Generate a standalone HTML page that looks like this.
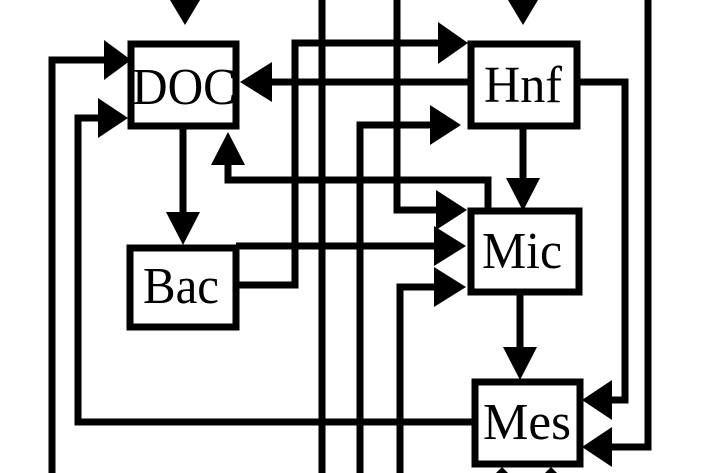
<!DOCTYPE html>
<html><head><style>html,body{margin:0;padding:0;background:#fff}svg{display:block}</style></head>
<body>
<svg width="710" height="473" viewBox="0 0 710 473" xmlns="http://www.w3.org/2000/svg">
<g fill="none" stroke="#000" stroke-width="7" stroke-linejoin="miter">
<rect x="131" y="44" width="105" height="82"/>
<rect x="471" y="44" width="106" height="82"/>
<rect x="471" y="211" width="108" height="81"/>
<rect x="130" y="248" width="106" height="79"/>
<rect x="475" y="382" width="105" height="82"/>
<line x1="185" y1="0" x2="185" y2="8"/>
<line x1="523" y1="0" x2="523" y2="8"/>
<polyline points="52,473 52,60 108,60"/>
<polyline points="475,422 78,422 78,118 102,118"/>
<line x1="183" y1="127" x2="183" y2="215"/>
<line x1="471" y1="82" x2="268" y2="82"/>
<polyline points="228,160 228,180 488,180 488,211"/>
<polyline points="236,285 295,285 295,43 440,43"/>
<line x1="322" y1="0" x2="322" y2="473"/>
<polyline points="397,0 397,210 440,210"/>
<polyline points="360,473 360,125 434,125"/>
<polyline points="400,473 400,287 438,287"/>
<line x1="236" y1="246" x2="438" y2="246"/>
<line x1="523" y1="126" x2="523" y2="180"/>
<line x1="520" y1="292" x2="520" y2="350"/>
<polyline points="577,82 625,82 625,400 610,400"/>
<polyline points="648,0 648,447 610,447"/>
</g>
<g fill="#000">
<polygon points="170,0 200,0 185,25"/>
<polygon points="508,0 538,0 523,25"/>
<polygon points="104,40 104,80 131,60"/>
<polygon points="98,98 98,138 128,118"/>
<polygon points="166,212 200,212 183,245"/>
<polygon points="272,62 272,102 240,82"/>
<polygon points="211,165 245,165 228,132"/>
<polygon points="438,22 438,64 468,43"/>
<polygon points="436,190 436,230 467,210"/>
<polygon points="430,105 430,145 461,125"/>
<polygon points="434,226 434,266 466,246"/>
<polygon points="434,267 434,307 466,287"/>
<polygon points="506,178 540,178 523,211"/>
<polygon points="503,347 537,347 520,380"/>
<polygon points="612,380 612,420 582,400"/>
<polygon points="612,427 612,467 582,447"/>
<polygon points="496,473 508,473 502,467"/>
<polygon points="545,473 557,473 551,467"/>
</g>
<g font-family="Liberation Serif, serif" font-size="52" fill="#000" text-anchor="middle">
<text x="184" y="104" textLength="104" lengthAdjust="spacingAndGlyphs">DOC</text>
<text x="523" y="102" textLength="78" lengthAdjust="spacingAndGlyphs">Hnf</text>
<text x="522" y="268" textLength="80" lengthAdjust="spacingAndGlyphs">Mic</text>
<text x="181" y="303" textLength="76" lengthAdjust="spacingAndGlyphs">Bac</text>
<text x="527" y="439" textLength="88" lengthAdjust="spacingAndGlyphs">Mes</text>
</g>
</svg>
</body></html>
